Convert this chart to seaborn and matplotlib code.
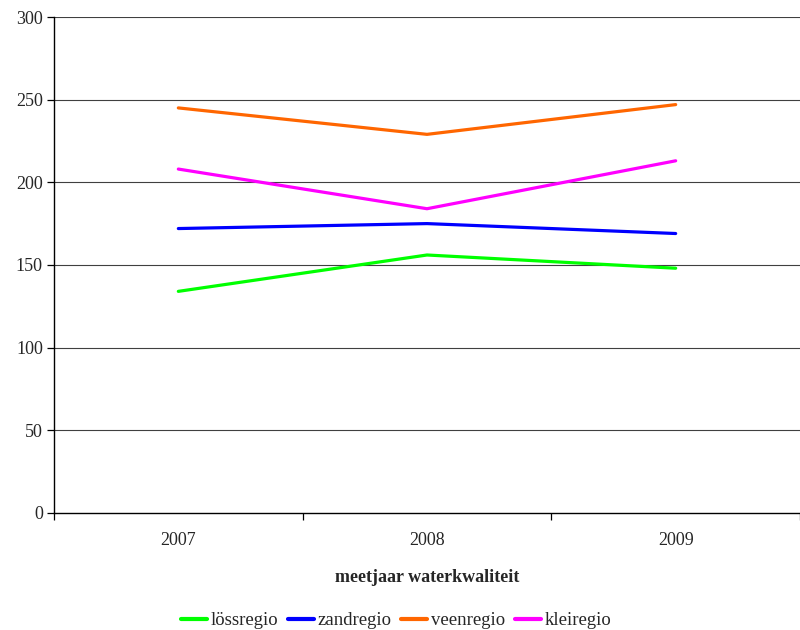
import matplotlib
matplotlib.use("Agg")
import matplotlib.pyplot as plt
import seaborn as sns
import pandas as pd
import numpy as np

years = ["2007", "2008", "2009"]
lossregio = [134, 156, 148]
zandregio = [172, 175, 169]
veenregio = [245, 229, 247]
kleiregio = [208, 184, 213]
series_names = ["lössregio", "zandregio", "veenregio", "kleiregio"]
colors = ["#00FF00", "#0000FF", "#FF6600", "#FF00FF"]
yticks = [0, 50, 100, 150, 200, 250, 300]

rows = []
for name, vals in zip(series_names, [lossregio, zandregio, veenregio, kleiregio]):
    for y, v in zip(years, vals):
        rows.append({"jaar": y, "waarde": v, "regio": name})
df = pd.DataFrame(rows)

sns.set_style("white")
plt.rcParams["font.family"] = ["Liberation Serif", "DejaVu Serif"]

fig = plt.figure(figsize=(8, 6.3), dpi=100)
ax = fig.add_axes([0.0675, 0.186, 0.9325, 0.787])

sns.lineplot(data=df, x="jaar", y="waarde", hue="regio", hue_order=series_names,
             palette=colors, linewidth=2.3, ax=ax, sort=False, legend=True)

ax.set_ylim(0, 300)
ax.set_yticks(yticks)
ax.set_yticklabels([str(t) for t in yticks], fontsize=13)
for t in yticks[1:]:
    ax.axhline(t, color="#404040", lw=0.8, zorder=0)

ax.set_xlim(-0.5, 2.5)
ax.set_xticks([-0.5, 0.5, 1.5, 2.5])
ax.set_xticklabels([])
ax.set_xticks([0, 1, 2], minor=True)
ax.set_xticklabels(years, minor=True, fontsize=13)
ax.tick_params(axis="x", which="minor", bottom=True, length=0, pad=14)
ax.tick_params(axis="x", which="major", bottom=True, length=5, width=0.9,
               direction="out", color="black")
ax.tick_params(axis="y", left=True, length=5, width=0.9, direction="out",
               color="black", pad=3)

for s in ["top", "right"]:
    ax.spines[s].set_visible(False)
for s in ["left", "bottom"]:
    ax.spines[s].set_color("black")
    ax.spines[s].set_linewidth(1.0)

ax.set_xlabel("meetjaar waterkwaliteit", fontsize=13, fontweight="bold", labelpad=14)
ax.set_ylabel("")

handles, labels = ax.get_legend_handles_labels()
ax.legend(handles, labels, loc="lower center", bbox_to_anchor=(0.495, -0.011),
          bbox_transform=fig.transFigure, ncol=4, frameon=False, fontsize=13.5,
          handlelength=1.4, handletextpad=0.2, columnspacing=0.5, borderaxespad=0)
for h in ax.get_legend().get_lines():
    h.set_linewidth(3)

fig.savefig("out.png", dpi=100)
